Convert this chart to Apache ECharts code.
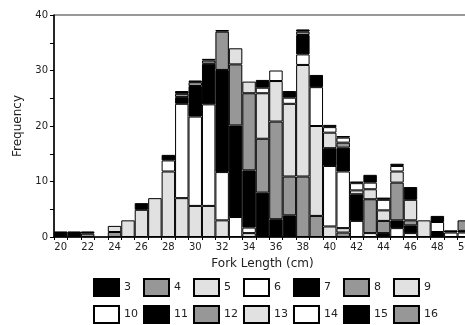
<!DOCTYPE html>
<html>
<head>
<meta charset="utf-8">
<script src="https://cdn.jsdelivr.net/npm/echarts@6/dist/echarts.min.js"></script>
<style>
  html, body { margin: 0; padding: 0; background: #fff; }
  #main { width: 465px; height: 325px; }
</style>
</head>
<body>
<div id="main"></div>
<script>
// fork length bins (cm)
const lengths = ['20','21','22','23','24','25','26','27','28','29','30','31','32','33','34','35','36','37','38','39','40','41','42','43','44','45','46','47','48','49','50'];

// frequency by age, one array per age (bins 20..50)
const age3  = [1,1,0,0,0,0,0,0,0,0, 0,0,0,0,0,0,0,0,0,0, 0,0,0,0,0,0,0,0,0,0, 0];
const age4  = [0,0,0.6,0,0.9,0,0,0,0,0, 0,0,0,0,0,0,0,0,0,0, 0,0,0,0,0,0,0,0,0,0, 0];
const age5  = [0,0,0,0,1.1,3,4.9,7,11.8,7, 5.6,5.6,3,0,0.7,0,0,0,0,0, 0,0,0,0,0,0,0,0,0,0, 0];
const age6  = [0,0,0,0,0,0,0,0,2,17, 16.1,18.3,8.7,3.6,1.0,0,0,0,0,0, 0,0,0,0,0,0,0,0,0,0, 0];
const age7  = [0,0,0.4,0,0,0,1.2,0,1,1.2, 5.5,7.3,18.4,16.5,10.3,8.0,3.2,3.9,0,0, 0,0,0,0,0,0,0,0,0,0, 0];
const age8  = [0,0,0,0,0,0,0,0,0,0.6, 0.7,0.6,6.9,11,13.9,9.7,17.6,7.0,10.9,3.8, 0,0.8,0,0,0,0,0,0,0,0, 0];
const age9  = [0,0,0,0,0,0,0,0,0,0, 0,0,0,2.9,2.1,8.2,7.3,13.1,20.1,16.2, 1.9,0.8,0,0,0,0,0,0,0,0, 0];
const age10 = [0,0,0,0,0,0,0,0,0,0, 0,0,0,0,0,1.0,1.9,1.1,1.9,7.0, 10.9,10.2,2.9,0.7,0,1.6,0.7,0,0,0, 0];
const age11 = [0,0,0,0,0,0,0,0,0,0.5, 0.3,0.3,0.3,0,0,1.4,0,1.2,3.5,2.2, 3.2,4.3,4.8,0,0.7,1.4,1.4,0,0.9,0, 0];
const age12 = [0,0,0,0,0,0,0,0,0,0, 0,0,0,0,0,0,0,0,0.6,0, 0,0.9,0,6.1,2.2,6.8,0.9,0,0,0, 0];
const age13 = [0,0,0,0,0,0,0,0,0,0, 0,0,0,0,0,0,0,0,0,0, 2.8,0,0.7,1.8,1.9,2.0,3.7,3.0,0,0, 0];
const age14 = [0,0,0,0,0,0,0,0,0,0, 0,0,0,0,0,0,0,0,0,0, 1.0,0.9,1.3,1.2,1.9,1.0,0,0,1.8,0.8, 0.8];
const age15 = [0,0,0,0,0,0,0,0,0,0, 0,0,0,0,0,0,0,0,0.4,0, 0.4,0.3,0.3,1.4,0.4,0.4,2.3,0,1.1,0.4, 0.3];
const age16 = [0,0,0,0,0,0,0,0,0,0, 0,0,0,0,0,0,0,0,0,0, 0,0,0,0,0,0,0,0,0,0, 1.9];

const ages = ['3','4','5','6','7','8','9','10','11','12','13','14','15','16'];
const ageData = [age3, age4, age5, age6, age7, age8, age9, age10, age11, age12, age13, age14, age15, age16];
const fills = ['#000000', '#979797', '#e1e1e1', '#ffffff'];

const chart = echarts.init(document.getElementById('main'));

const series = ages.map((name, i) => ({
  name: name,
  type: 'bar',
  stack: 'total',
  barCategoryGap: '0%',
  itemStyle: { color: fills[i % 4], borderColor: '#000', borderWidth: 1 },
  // empty cells left out so they draw no border line
  data: ageData[i].map(v => (v === 0 ? '-' : v))
}));

const legendCommon = {
  left: 93,
  width: 400,
  padding: 0,
  orient: 'horizontal',
  icon: 'rect',
  itemWidth: 25,
  itemHeight: 17,
  selectedMode: false,
  textStyle: { fontFamily: 'DejaVu Sans', fontSize: 11, color: '#222' }
};

const option = {
  animation: false,
  textStyle: { fontFamily: 'DejaVu Sans' },
  grid: {
    left: 54, width: 417, top: 15, height: 222,
    outerBoundsMode: 'none',
    show: true, borderColor: '#333', borderWidth: 1
  },
  legend: [
    Object.assign({ top: 278, itemGap: 12, data: ages.slice(0, 7) }, legendCommon),
    Object.assign({ top: 305, itemGap: 5, data: ages.slice(7) }, legendCommon)
  ],
  xAxis: {
    type: 'category',
    data: lengths,
    name: 'Fork Length (cm)',
    nameLocation: 'middle',
    nameGap: 21,
    nameTextStyle: { fontFamily: 'DejaVu Sans', fontSize: 12, color: '#222' },
    axisLine: { lineStyle: { color: '#000', width: 1.5 } },
    axisTick: { show: true, interval: 0, length: 3, lineStyle: { color: '#000' } },
    axisLabel: { interval: 1, fontSize: 10, color: '#222', margin: 5 }
  },
  yAxis: {
    type: 'value',
    min: 0,
    max: 40,
    interval: 10,
    name: 'Frequency',
    nameLocation: 'middle',
    nameGap: 30,
    nameTextStyle: { fontFamily: 'DejaVu Sans', fontSize: 12, color: '#222' },
    axisLine: { show: true, lineStyle: { color: '#000', width: 1.5 } },
    axisTick: { show: true, length: 4, lineStyle: { color: '#000' } },
    minorTick: { show: true, splitNumber: 2, length: 4, lineStyle: { color: '#000' } },
    splitLine: { show: false },
    axisLabel: { fontSize: 10, color: '#222', margin: 6 }
  },
  series: series
};

chart.setOption(option);
</script>
</body>
</html>
